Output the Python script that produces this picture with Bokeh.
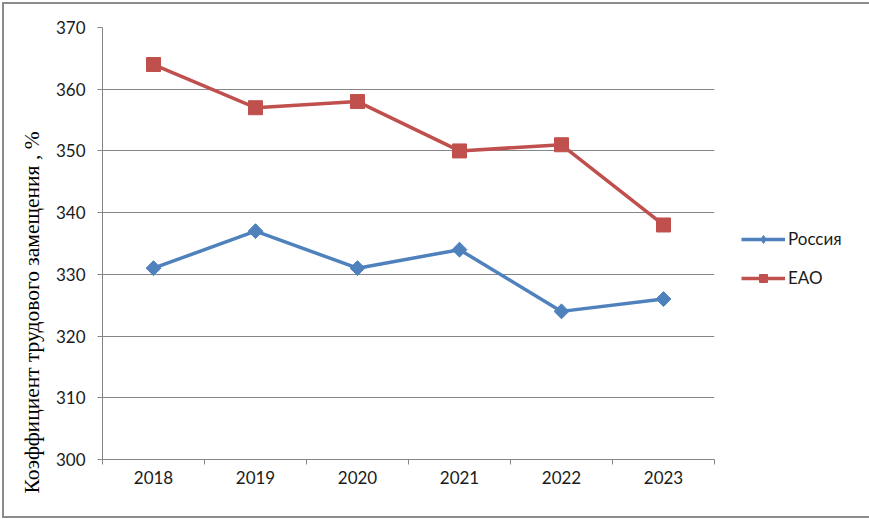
import math
from bokeh.plotting import figure
from bokeh.models import (Range1d, FixedTicker, Legend, LegendItem, Title, LinearAxis)
from bokeh.embed import file_html
from bokeh.resources import INLINE

years = ["2018", "2019", "2020", "2021", "2022", "2023"]
russia = [331, 337, 331, 334, 324, 326]
eao = [364, 357, 358, 350, 351, 338]
y_ticks = [300, 310, 320, 330, 340, 350, 360, 370]
y_title = "Коэффициент трудового замещения , %"
series_names = ["Россия", "ЕАО"]

xs = [i + 0.5 for i in range(len(years))]

p = figure(width=861, height=512, output_backend="svg", toolbar_location=None,
           x_range=Range1d(0, len(years)), y_range=Range1d(300, 370),
           min_border_left=98, min_border_right=151, min_border_top=23, min_border_bottom=57,
           x_axis_type=None)
p.frame_width = 612
p.frame_height = 432
p.styles = {"border": "2px solid #8c8c8c", "margin-left": "2px", "margin-top": "2px"}
p.outline_line_color = None
p.background_fill_color = "white"
p.border_fill_color = "white"

# y axis
p.yaxis.ticker = FixedTicker(ticks=y_ticks)
p.yaxis.axis_line_color = "#868686"
p.yaxis.major_tick_line_color = "#868686"
p.yaxis.major_tick_out = 5
p.yaxis.major_tick_in = 0
p.yaxis.minor_tick_line_color = None
p.yaxis.major_label_text_font = "Lato"
p.yaxis.major_label_text_font_size = "17px"
p.yaxis.major_label_text_color = "#1a1a1a"
p.yaxis.major_label_standoff = 12
p.ygrid.grid_line_color = "#868686"
p.ygrid.ticker = FixedTicker(ticks=y_ticks)
p.xgrid.grid_line_color = None

# x axis: boundary ticks
xa_ticks = LinearAxis(ticker=FixedTicker(ticks=list(range(len(years) + 1))))
xa_ticks.axis_line_color = "#868686"
xa_ticks.major_tick_line_color = "#868686"
xa_ticks.major_tick_out = 5
xa_ticks.major_tick_in = 0
xa_ticks.minor_tick_line_color = None
xa_ticks.major_label_text_font_size = "0px"
xa_ticks.major_label_text_color = None
p.add_layout(xa_ticks, "below")

# x labels at centers
xa_lab = LinearAxis(ticker=FixedTicker(ticks=xs),
                    major_label_overrides={x: y for x, y in zip(xs, years)})
xa_lab.axis_line_color = None
xa_lab.major_tick_line_color = None
xa_lab.minor_tick_line_color = None
xa_lab.major_label_text_font = "Lato"
xa_lab.major_label_text_font_size = "17px"
xa_lab.major_label_text_color = "#1a1a1a"
xa_lab.major_label_standoff = 0
p.add_layout(xa_lab, "below")

blue = "#4F81BD"
red = "#C0504D"

r1l = p.line(xs, russia, line_color=blue, line_width=3.5)
# diamond used for the legend; hidden under the square-diamond markers
r1p = p.scatter(xs, russia, marker="diamond", size=14, fill_color=blue, line_color=blue)
r1m = p.scatter(xs, russia, marker="square", angle=math.pi / 4, size=10.5,
                fill_color=blue, line_color=blue)
r2l = p.line(xs, eao, line_color=red, line_width=3.5)
r2m = p.scatter(xs, eao, marker="square", size=14, fill_color=red, line_color=red)

legend = Legend(items=[LegendItem(label=series_names[0], renderers=[r1l, r1p]),
                       LegendItem(label=series_names[1], renderers=[r2l, r2m])],
                location=(27, 171), orientation="vertical")
legend.border_line_color = None
legend.background_fill_alpha = 0
legend.label_text_font = "Lato"
legend.label_text_font_size = "17px"
legend.label_text_color = "#1a1a1a"
legend.glyph_width = 44
legend.glyph_height = 20
legend.spacing = 18
legend.padding = 0
legend.margin = 0
legend.label_standoff = 3
p.add_layout(legend, "right")

title = Title(text=y_title, align="left", offset=-34, standoff=17,
              text_font="Liberation Serif", text_font_size="21.5px",
              text_font_style="normal", text_color="#000000")
p.add_layout(title, "left")

open("out.html", "w").write(file_html(p, INLINE))
